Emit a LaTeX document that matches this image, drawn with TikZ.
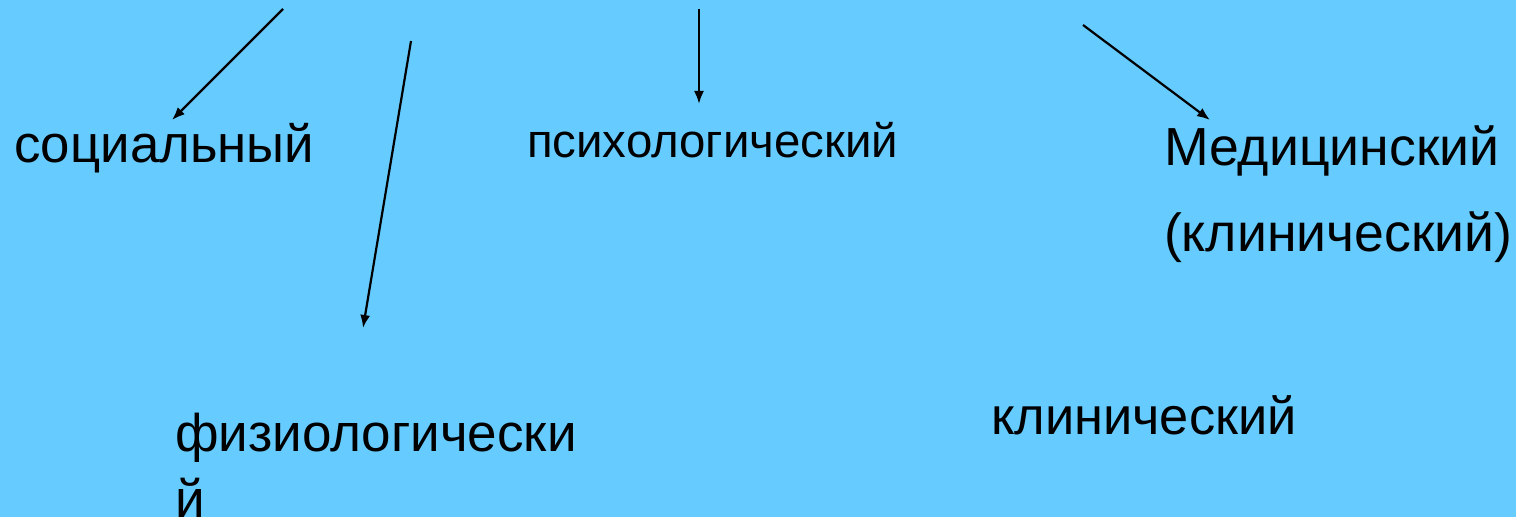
\documentclass[tikz,border=0pt]{standalone}
\usepackage{fontspec}
\setmainfont{Liberation Sans}
\usetikzlibrary{arrows.meta}
\definecolor{bg}{HTML}{66CCFF}
\tikzset{
  lbl/.style={anchor=base west, inner sep=0pt, outer sep=0pt, text=black, font=\fontsize{26.4}{33}\selectfont},
  conn/.style={line width=1.1pt, -{Latex[length=6.5pt,width=5pt]}}
}
\begin{document}
\begin{tikzpicture}[x=0.5pt,y=-0.5pt]
\fill[bg] (0,0) rectangle (1516,517);
\useasboundingbox (0,0) rectangle (1516,517);
\clip (0,0) rectangle (1516,517);
\node[lbl] (soc) at (14,163) {социальный};
\node[lbl, font=\fontsize{23.7}{29}\selectfont] (psy) at (527,158) {психологический};
\node[lbl, align=left, font=\fontsize{26.8}{43}\selectfont] (med) at (1164,252) {Медицинский\\(клинический)};
\node[lbl, align=left, font=\fontsize{26.5}{33}\selectfont] (fiz) at (175,518) {физиологически\\й};
\node[lbl, font=\fontsize{26.2}{33}\selectfont] (kli) at (991,435) {клинический};
\coordinate (s1) at (283,9);   \coordinate (e1) at (172,120);
\coordinate (s2) at (411,41);  \coordinate (e2) at (363,328);
\coordinate (s3) at (699,9);   \coordinate (e3) at (699,104);
\coordinate (s4) at (1083,25); \coordinate (e4) at (1210,120);
\draw[conn] (s1) -- (e1);
\draw[conn] (s2) -- (e2);
\draw[conn] (s3) -- (e3);
\draw[conn] (s4) -- (e4);
\end{tikzpicture}
\end{document}
